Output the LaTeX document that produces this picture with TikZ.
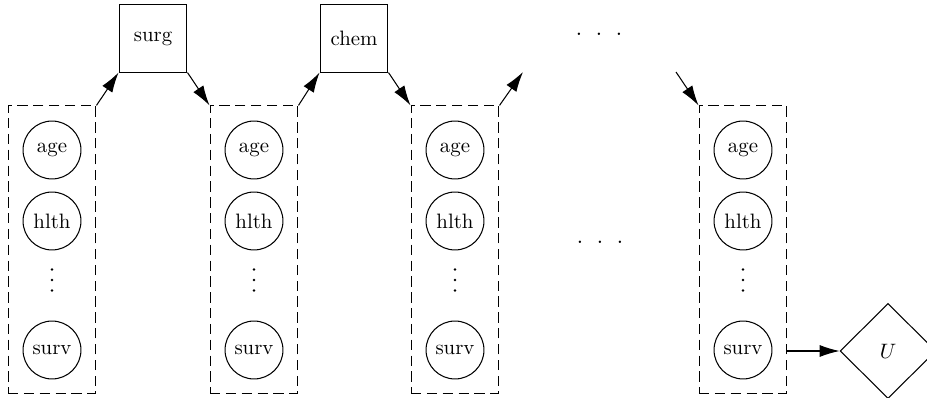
\documentclass[tikz,border=0pt]{standalone}
\usetikzlibrary{shapes.geometric,arrows.meta}
\begin{document}
\begin{tikzpicture}[x=0.48pt,y=-0.48pt,line width=0.5pt,
  var/.style={draw,circle,minimum size=27.8pt,inner sep=0pt},
  dec/.style={draw,rectangle,minimum width=32.6pt,minimum height=32.2pt,inner sep=0pt},
  util/.style={draw,diamond,minimum width=46pt,minimum height=45.6pt,inner sep=0pt},
  slice/.style={draw,rectangle,dash pattern=on 5pt off 2.6pt,minimum width=42.2pt,minimum height=137.8pt,inner sep=0pt},
  arr/.style={-{Latex[length=9.6pt,width=5.8pt]}},
  dot/.style={fill,circle,minimum size=1.4pt,inner sep=0pt}]
\useasboundingbox (0,0) rectangle (927,398);
\newcommand{\myhdots}{{\large.\hspace{6.3pt}.\hspace{6.3pt}.}}
\foreach \i/\x in {1/52,2/254,3/455,4/743}{
  \node[slice] (b\i) at (\x,249.5) {};
  \node[var] (a\i) at (\x,150) {age};
  \node[var] (h\i) at (\x,221) {hlth};
  \node[dot] (da\i) at (\x,269.5) {};
  \node[dot] (db\i) at (\x,280) {};
  \node[dot] (dc\i) at (\x,290.5) {};
  \node[var] (s\i) at (\x,350) {surv};
}
\node[dec] (surg) at (153,38.5) {surg};
\node[dec] (chem) at (354,38.5) {chem};
\node[inner sep=0pt] (top) at (599,34) {\myhdots};
\node[inner sep=0pt] (mid) at (600,242) {\myhdots};
\node[util] (U) at (888,351) {$U$};
\coordinate (o3) at (523,72);
\coordinate (i4) at (676,72);
\draw[arr] (b1.north east) -- (surg.south west);
\draw[arr] (surg.south east) -- (b2.north west);
\draw[arr] (b2.north east) -- (chem.south west);
\draw[arr] (chem.south east) -- (b3.north west);
\draw[arr] (b3.north east) -- (o3);
\draw[arr] (i4) -- (b4.north west);
\draw[arr] (b4.east |- U.west) -- (U.west);
\end{tikzpicture}
\end{document}
